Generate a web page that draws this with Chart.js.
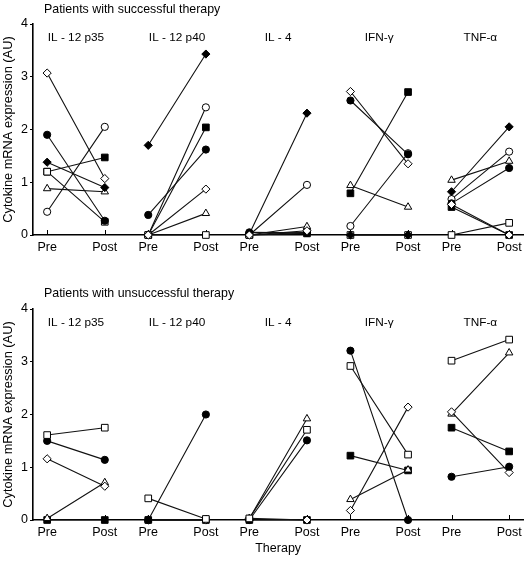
<!DOCTYPE html>
<html lang="en">
<head>
    <meta charset="UTF-8">
    <title>Cytokine mRNA expression</title>
    <style>
        body {
            margin: 0;
            padding: 0;
            background-color: #ffffff;
        }
        .panel {
            position: relative;
            width: 529px;
        }
        canvas {
            display: block;
        }
    </style>
</head>
<body>
    <div class="panel"><canvas id="topChart" width="529" height="280"></canvas></div>
    <div class="panel"><canvas id="bottomChart" width="529" height="281"></canvas></div>

    <script src="https://cdn.jsdelivr.net/npm/chart.js"></script>
    <script>
        // Cytokines (one group per cytokine) and the two time points
        const groups = ['IL - 12 p35', 'IL - 12 p40', 'IL - 4', 'IFN-\u03b3', 'TNF-\u03b1'];
        const tickLabels = ['Pre', 'Post'];
        const postOffset = 0.57; // gap Pre -> Post inside a group

        // Successful therapy: pre/post value pairs for each cytokine, in group order
        const sOpenDiamond   = [3.07, 1.07, 0, 0.87, 0, 0.08, 2.72, 1.35, 0.58, 0];
        const sFilledCircle  = [1.90, 0.27, 0.38, 1.62, 0.05, 0.04, 2.55, 1.53, 0.60, 1.27];
        const sFilledDiamond = [1.38, 0.90, 1.70, 3.43, 0.02, 2.31, 0, 0, 0.82, 2.05];
        const sOpenSquare    = [1.20, 0.25, 0, 0, 0, 0.05, 0, 0, 0, 0.23];
        const sFilledSquare  = [1.20, 1.47, 0, 2.04, 0, 0.03, 0.79, 2.71, 0.53, 0];
        const sOpenTriangle  = [0.88, 0.82, 0, 0.41, 0, 0.16, 0.94, 0.53, 1.04, 1.40];
        const sOpenCircle    = [0.44, 2.05, 0, 2.42, 0, 0.95, 0.17, 1.55, 0.68, 1.58];

        // Unsuccessful therapy
        const uOpenSquare    = [1.61, 1.75, 0.41, 0.02, 0.03, 1.71, 2.92, 1.24, 3.02, 3.42];
        const uFilledCircle  = [1.50, 1.14, 0, 2.00, 0, 1.51, 3.21, 0, 0.82, 1.01];
        const uOpenDiamond   = [1.16, 0.64, 0, 0, 0.03, 0, 0.18, 2.14, 2.05, 0.90];
        const uOpenTriangle  = [0.03, 0.71, 0, 0, 0.03, 1.92, 0.39, 0.95, 2.01, 3.17];
        const uFilledSquare  = [0, 0, 0, 0, 0, 0, 1.22, 0.94, 1.75, 1.30];

        // marker look: [pointStyle, fill, radius]
        const markers = {
            openCircle:    ['circle', '#ffffff', 3.6],
            filledCircle:  ['circle', '#000000', 3.6],
            openSquare:    ['rect', '#ffffff', 4.7],
            filledSquare:  ['rect', '#000000', 4.7],
            openDiamond:   ['rectRot', '#ffffff', 4.1],
            filledDiamond: ['rectRot', '#000000', 4.1],
            openTriangle:  ['triangle', '#ffffff', 4.3]
        };

        const FONT = '"Liberation Sans", Arial, sans-serif';

        const tickPositions = [];
        groups.forEach((g, i) => tickPositions.push(i, i + postOffset));

        function makeDataset(values, marker) {
            const [style, fill, radius] = markers[marker];
            const points = [];
            groups.forEach((g, i) => {
                points.push({ x: i, y: values[2 * i] });
                points.push({ x: i + postOffset, y: values[2 * i + 1] });
                points.push({ x: i + 0.8, y: null }); // break the line between groups
            });
            return {
                data: points,
                borderColor: '#111111',
                borderWidth: 1.1,
                pointStyle: style,
                pointRadius: radius,
                pointHoverRadius: radius,
                pointBackgroundColor: fill,
                pointBorderColor: '#000000',
                pointBorderWidth: 1,
                spanGaps: false,
                clip: false
            };
        }

        // panel title, cytokine names and the small inward ticks on the x axis
        const panelText = {
            id: 'panelText',
            beforeDatasetsDraw(chart) {
                const ctx = chart.ctx;
                const x = chart.scales.x;
                const area = chart.chartArea;
                ctx.save();
                ctx.strokeStyle = '#000000';
                ctx.lineWidth = 1;
                tickPositions.forEach(v => {
                    const px = Math.round(x.getPixelForValue(v)) + 0.5;
                    ctx.beginPath();
                    ctx.moveTo(px, area.bottom);
                    ctx.lineTo(px, area.bottom - 5);
                    ctx.stroke();
                });
                ctx.restore();
            },
            afterDraw(chart, args, opts) {
                const ctx = chart.ctx;
                const x = chart.scales.x;
                const area = chart.chartArea;
                ctx.save();
                ctx.fillStyle = '#000000';
                ctx.textBaseline = 'middle';
                ctx.font = '12.4px ' + FONT;
                ctx.textAlign = 'left';
                ctx.fillText(opts.title, 44, opts.titleY);
                ctx.font = '11.8px ' + FONT;
                ctx.textAlign = 'center';
                groups.forEach((g, i) => {
                    ctx.fillText(g, x.getPixelForValue(i + postOffset / 2), area.top + 13.5);
                });
                ctx.restore();
            }
        };

        function makePanel(id, title, titleY, datasets, topPad, xHeight, showXTitle) {
            return new Chart(document.getElementById(id), {
                type: 'line',
                data: { datasets: datasets },
                plugins: [panelText],
                options: {
                    responsive: false,
                    animation: false,
                    layout: { padding: { top: topPad, right: 2, bottom: 0, left: 0 } },
                    plugins: {
                        legend: { display: false },
                        tooltip: { enabled: false },
                        panelText: { title: title, titleY: titleY }
                    },
                    scales: {
                        x: {
                            type: 'linear',
                            min: -0.14,
                            max: 4.71,
                            afterBuildTicks: scale => {
                                scale.ticks = tickPositions.map(v => ({ value: v }));
                            },
                            afterFit: scale => { scale.height = xHeight; },
                            grid: { display: false, drawTicks: false },
                            border: { display: true, color: '#000000', width: 1.6 },
                            ticks: {
                                autoSkip: false,
                                maxRotation: 0,
                                padding: 5,
                                color: '#000000',
                                font: { family: FONT, size: 12.5 },
                                callback: (value, index) => tickLabels[index % 2]
                            },
                            title: {
                                display: showXTitle,
                                text: 'Therapy',
                                color: '#000000',
                                font: { family: FONT, size: 12.5 },
                                padding: { top: 0, bottom: 5 }
                            }
                        },
                        y: {
                            min: 0,
                            max: 4,
                            afterFit: scale => { scale.width = 33; },
                            grid: {
                                drawOnChartArea: false,
                                drawTicks: true,
                                tickLength: 3,
                                color: '#000000'
                            },
                            border: { display: true, color: '#000000', width: 1.6 },
                            ticks: {
                                stepSize: 1,
                                padding: 2,
                                color: '#000000',
                                font: { family: FONT, size: 12.5 }
                            },
                            title: {
                                display: true,
                                text: 'Cytokine mRNA expression (AU)',
                                color: '#000000',
                                font: { family: FONT, size: 12.8 },
                                padding: { top: 1, bottom: 0 }
                            }
                        }
                    }
                }
            });
        }

        makePanel('topChart', 'Patients with successful therapy', 9.5, [
            makeDataset(sOpenDiamond, 'openDiamond'),
            makeDataset(sFilledCircle, 'filledCircle'),
            makeDataset(sFilledDiamond, 'filledDiamond'),
            makeDataset(sOpenSquare, 'openSquare'),
            makeDataset(sFilledSquare, 'filledSquare'),
            makeDataset(sOpenTriangle, 'openTriangle'),
            makeDataset(sOpenCircle, 'openCircle')
        ], 24, 45, false);

        makePanel('bottomChart', 'Patients with unsuccessful therapy', 14, [
            makeDataset(uOpenSquare, 'openSquare'),
            makeDataset(uFilledCircle, 'filledCircle'),
            makeDataset(uOpenDiamond, 'openDiamond'),
            makeDataset(uOpenTriangle, 'openTriangle'),
            makeDataset(uFilledSquare, 'filledSquare')
        ], 29, 41, true);
    </script>
</body>
</html>
